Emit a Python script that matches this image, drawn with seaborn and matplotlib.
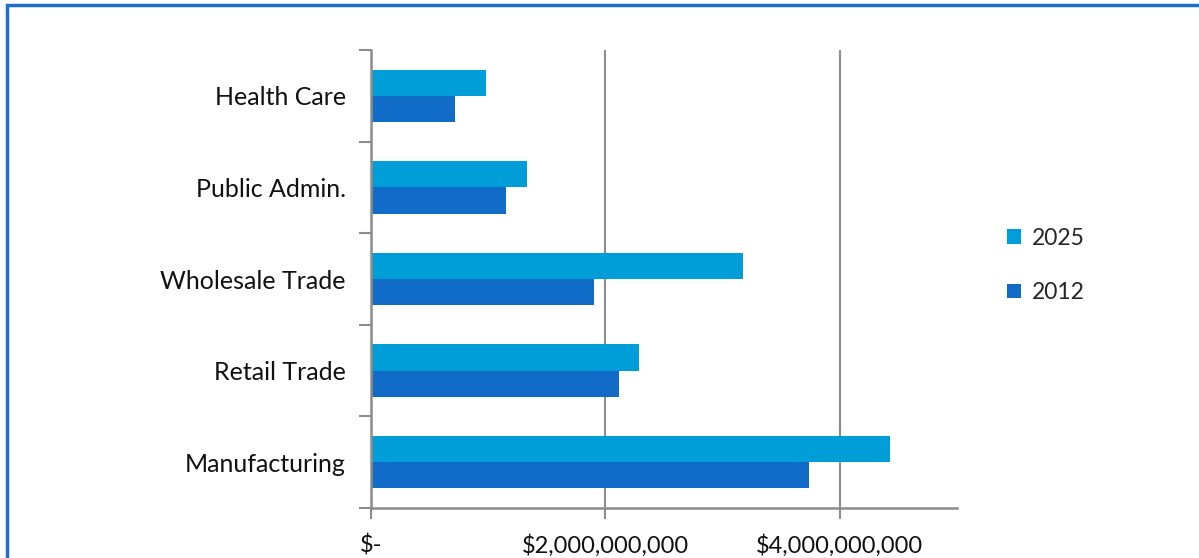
import matplotlib
matplotlib.use("Agg")
import matplotlib.pyplot as plt
import seaborn as sns
import pandas as pd
from matplotlib.patches import Rectangle
from matplotlib.ticker import FixedLocator

categories = ["Health Care", "Public Admin.", "Wholesale Trade", "Retail Trade", "Manufacturing"]
values_2025 = [0.98e9, 1.33e9, 3.17e9, 2.29e9, 4.43e9]
values_2012 = [0.72e9, 1.15e9, 1.90e9, 2.12e9, 3.74e9]
series = ["2025", "2012"]
xtick_vals = [0, 2e9, 4e9]
xtick_labels = ["$-", "$2,000,000,000", "$4,000,000,000"]

df = pd.DataFrame({
    "Industry": categories * 2,
    "Value": values_2025 + values_2012,
    "Year": ["2025"] * len(categories) + ["2012"] * len(categories),
})

sns.set_theme(style="white")
plt.rcParams["font.family"] = ["Lato", "DejaVu Sans"]

fig = plt.figure(figsize=(11.99, 5.58), dpi=100)
ax = fig.add_axes([371 / 1199, 1 - 508 / 558, (957 - 371) / 1199, (508 - 50) / 558])

palette = {"2025": "#009ED8", "2012": "#106CC6"}
sns.barplot(data=df, y="Industry", x="Value", hue="Year", hue_order=series,
            order=categories, orient="h", palette=palette, width=0.57,
            dodge=True, saturation=1, ax=ax, edgecolor="none")

ax.set_xlim(0, 5e9)
ax.set_ylim(len(categories) - 0.5, -0.5)
ax.set_xlabel("")
ax.set_ylabel("")

grey = "#8c8c8c"
ax.set_xticks(xtick_vals)
ax.set_xticklabels(xtick_labels, fontsize=17, color="#111111")
ax.tick_params(axis="x", length=8, width=1.5, color=grey, pad=11, direction="out", bottom=True)
ax.xaxis.grid(True, color=grey, linewidth=1.5)
ax.set_axisbelow(True)

ax.yaxis.set_major_locator(FixedLocator([i - 0.5 for i in range(len(categories) + 1)]))
ax.yaxis.set_minor_locator(FixedLocator(list(range(len(categories)))))
ax.set_yticklabels([""] * (len(categories) + 1))
ax.set_yticklabels(categories, minor=True, fontsize=18, color="#111111")
ax.tick_params(axis="y", which="major", length=9, width=1.5, color=grey, left=True)
ax.tick_params(axis="y", which="minor", length=0, pad=18, left=True)

for s in ["top", "right"]:
    ax.spines[s].set_visible(False)
for s in ["left", "bottom"]:
    ax.spines[s].set_color(grey)
    ax.spines[s].set_linewidth(1.8)

leg = ax.legend(loc="center left", bbox_to_anchor=(1.05, 0.53), frameon=False,
                fontsize=16.5, handlelength=0.6, handleheight=0.6, handletextpad=0.5,
                labelspacing=1.45)

fig.patches.append(Rectangle((7 / 1199, -0.05), 1.2, 1 - 5 / 558 + 0.05,
                             transform=fig.transFigure, fill=False,
                             edgecolor="#1E6FC8", linewidth=2.5))

fig.savefig("out.png", dpi=100)
